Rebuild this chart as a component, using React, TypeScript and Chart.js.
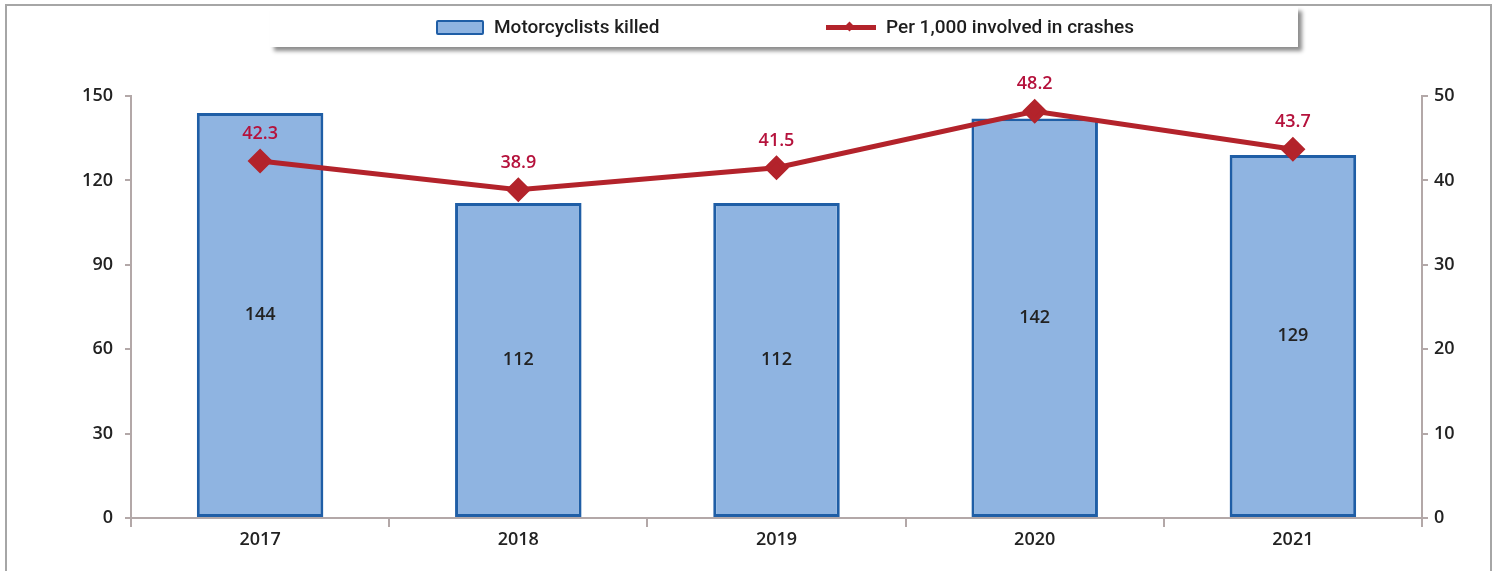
import React, { useEffect, useRef } from "react";
import { Chart, registerables } from "chart.js";

Chart.register(...registerables);

const years = ["2017", "2018", "2019", "2020", "2021"];
const killed = [144, 112, 112, 142, 129];
const perThousand = [42.3, 38.9, 41.5, 48.2, 43.7];
const leftTicks = [0, 30, 60, 90, 120, 150];
const rightTicks = [0, 10, 20, 30, 40, 50];

const BAR_FILL = "#8fb4e1";
const BAR_BORDER = "#1f5ea6";
const LINE_RED = "#b3232b";
const LABEL_RED = "#b5123c";
const AXIS = "#b3a8a8";
const FONT = "'Open Sans', 'DejaVu Sans', sans-serif";

const labelPlugin = {
  id: "valueLabels",
  afterDatasetsDraw(chart: any) {
    const ctx = chart.ctx;
    ctx.save();
    ctx.textAlign = "center";
    ctx.textBaseline = "middle";
    const barMeta = chart.getDatasetMeta(0);
    ctx.font = `600 18px ${FONT}`;
    ctx.fillStyle = "#222222";
    barMeta.data.forEach((el: any, i: number) => {
      const y = (el.y + el.base) / 2;
      ctx.fillText(String(killed[i]), el.x, y);
    });
    const lineMeta = chart.getDatasetMeta(1);
    ctx.fillStyle = LABEL_RED;
    lineMeta.data.forEach((el: any, i: number) => {
      ctx.fillText(perThousand[i].toFixed(1), el.x, el.y - 27);
    });
    ctx.restore();
  },
};

export default function App() {
  const ref = useRef<HTMLCanvasElement | null>(null);

  useEffect(() => {
    if (!ref.current) return;
    const tickFont = { family: FONT, size: 18, weight: 600 as any };
    const chart = new Chart(ref.current, {
      type: "bar",
      data: {
        labels: years,
        datasets: [
          {
            type: "bar",
            label: "Motorcyclists killed",
            data: killed,
            backgroundColor: BAR_FILL,
            borderColor: BAR_BORDER,
            borderWidth: 3,
            borderSkipped: false,
            categoryPercentage: 1,
            barPercentage: 0.49,
            yAxisID: "y",
            order: 1,
          },
          {
            type: "line",
            label: "Per 1,000 involved in crashes",
            data: perThousand,
            borderColor: LINE_RED,
            backgroundColor: LINE_RED,
            borderWidth: 5,
            pointStyle: "rectRot",
            pointRadius: 9,
            pointBackgroundColor: LINE_RED,
            pointBorderColor: LINE_RED,
            tension: 0,
            yAxisID: "y1",
            order: 0,
          },
        ] as any,
      },
      options: {
        animation: false,
        responsive: false,
        layout: { padding: { top: 96, left: 0, right: 0, bottom: 0 } },
        plugins: {
          legend: { display: false },
          tooltip: { enabled: false },
        },
        scales: {
          x: {
            offset: true,
            border: { color: AXIS, width: 2 },
            grid: {
              offset: true,
              drawOnChartArea: false,
              color: AXIS,
              tickLength: 9,
              lineWidth: 2,
            },
            ticks: {
              color: "#222222",
              font: tickFont,
              padding: 2,
            },
            afterFit: (s: any) => {
              s.height = 53;
            },
          },
          y: {
            position: "left",
            min: 0,
            max: 150,
            afterBuildTicks: (s: any) => {
              s.ticks = leftTicks.map((v) => ({ value: v }));
            },
            border: { color: AXIS, width: 2 },
            grid: {
              drawOnChartArea: false,
              color: AXIS,
              tickLength: 6,
              lineWidth: 2,
            },
            ticks: {
              color: "#222222",
              font: tickFont,
              padding: 12,
            },
            afterFit: (s: any) => {
              s.width = 131;
            },
          },
          y1: {
            position: "right",
            min: 0,
            max: 50,
            afterBuildTicks: (s: any) => {
              s.ticks = rightTicks.map((v) => ({ value: v }));
            },
            border: { color: AXIS, width: 2 },
            grid: {
              drawOnChartArea: false,
              color: AXIS,
              tickLength: 6,
              lineWidth: 2,
            },
            ticks: {
              color: "#222222",
              font: tickFont,
              padding: 6,
            },
            afterFit: (s: any) => {
              s.width = 72;
            },
          },
        },
      },
      plugins: [labelPlugin],
    });
    return () => chart.destroy();
  }, []);

  const legendText: React.CSSProperties = {
    fontFamily: "Roboto, 'Liberation Sans', sans-serif",
    fontSize: 19,
    fontWeight: 500,
    color: "#1e1e1e",
    position: "absolute",
    top: 15,
    whiteSpace: "nowrap",
    lineHeight: "24px",
  };

  return (
    <div
      style={{
        position: "fixed",
        left: 0,
        top: 0,
        width: 1494,
        height: 571,
        background: "#ffffff",
        overflow: "hidden",
      }}
    >
      <div
        style={{
          position: "absolute",
          left: 5,
          top: 4,
          width: 1483,
          height: 620,
          borderLeft: "2px solid #a6a6a6",
          borderTop: "2px solid #a6a6a6",
          borderRight: "2px solid #a6a6a6",
        }}
      />
      <canvas
        ref={ref}
        width={1494}
        height={571}
        style={{ position: "absolute", left: 0, top: 0, width: 1494, height: 571 }}
      />
      <div
        style={{
          position: "absolute",
          left: 270,
          top: 7,
          width: 1028,
          height: 40,
          background: "#ffffff",
          boxShadow: "4px 4px 4px rgba(0,0,0,0.45)",
        }}
      />
      <div
        style={{
          position: "absolute",
          left: 436,
          top: 20,
          width: 44,
          height: 11,
          background: BAR_FILL,
          border: `2px solid ${BAR_BORDER}`,
          borderRadius: 2,
        }}
      />
      <div style={{ ...legendText, left: 494 }}>Motorcyclists killed</div>
      <div
        style={{
          position: "absolute",
          left: 826,
          top: 25,
          width: 50,
          height: 5,
          background: LINE_RED,
        }}
      />
      <div
        style={{
          position: "absolute",
          left: 846,
          top: 23,
          width: 7,
          height: 7,
          background: LINE_RED,
          transform: "rotate(45deg)",
        }}
      />
      <div style={{ ...legendText, left: 886 }}>Per 1,000 involved in crashes</div>
    </div>
  );
}
